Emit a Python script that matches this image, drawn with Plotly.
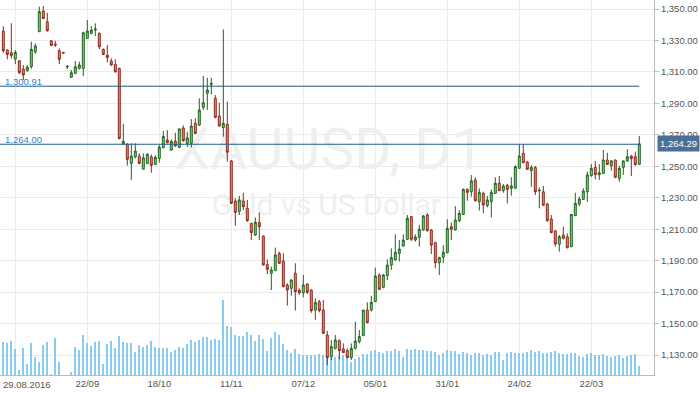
import plotly.graph_objects as go

# ---------------- data ----------------
opens = [1336.0, 1323.9, 1322.2, 1318.2, 1317.1, 1311.8, 1310.8, 1313.3, 1322.8, 1335.6,
         1348.7, 1341.9, 1329.8, 1327.7, 1323.5, 1322.4, 1313.1, 1306.5, 1309.1, 1312.2,
         1312.2, 1331.3, 1334.5, 1336.6, 1334.5, 1324.3, 1320.7, 1316.9, 1314.8, 1312.2,
         1264.1, 1264.1, 1251.8, 1256.1, 1256.5, 1248.2, 1251.8, 1256.0, 1251.2, 1255.0,
         1261.8, 1266.7, 1260.3, 1266.0, 1262.0, 1274.3, 1264.6, 1264.6, 1277.3, 1276.2,
         1287.5, 1296.4, 1302.1, 1293.2, 1282.0, 1274.6, 1276.7, 1253.4, 1227.9, 1221.4,
         1227.9, 1223.3, 1213.7, 1206.3, 1214.4, 1205.7, 1187.6, 1181.9, 1183.6, 1194.6,
         1189.8, 1174.5, 1172.4, 1181.9, 1171.3, 1169.6, 1175.1, 1171.3, 1158.6, 1163.9,
         1158.6, 1142.7, 1128.9, 1134.2, 1139.1, 1133.8, 1132.8, 1128.3, 1134.2, 1138.5,
         1142.3, 1158.6, 1158.6, 1163.9, 1180.9, 1173.0, 1180.5, 1187.2, 1190.4, 1194.6,
         1199.3, 1203.6, 1218.0, 1203.1, 1204.8, 1209.5, 1219.0, 1209.5, 1201.4, 1188.7,
         1192.1, 1195.1, 1211.6, 1209.5, 1215.4, 1219.4, 1235.3, 1233.8, 1241.3, 1227.5,
         1232.8, 1225.0, 1227.5, 1232.8, 1239.2, 1234.5, 1237.9, 1236.0, 1236.0, 1248.7,
         1258.2, 1252.7, 1247.2, 1249.3, 1234.3, 1233.8, 1226.0, 1216.5, 1208.9, 1200.4,
         1206.3, 1205.2, 1198.9, 1218.6, 1226.0, 1229.0, 1233.8, 1244.0, 1249.3, 1244.7,
         1245.5, 1254.0, 1250.2, 1254.0, 1242.3, 1249.3, 1253.4, 1256.5, 1256.1, 1251.2]
highs = [1339.0, 1324.3, 1340.9, 1323.9, 1317.5, 1314.4, 1314.2, 1329.2, 1328.1, 1351.5,
         1351.9, 1347.6, 1330.3, 1329.8, 1325.0, 1322.6, 1314.4, 1311.2, 1316.9, 1316.5,
         1335.6, 1343.0, 1339.2, 1340.9, 1335.1, 1325.0, 1327.1, 1318.6, 1318.0, 1312.7,
         1276.9, 1264.6, 1264.6, 1264.6, 1258.2, 1258.2, 1258.2, 1257.5, 1257.1, 1263.5,
         1272.4, 1273.0, 1267.1, 1271.3, 1274.1, 1276.0, 1272.0, 1280.0, 1280.5, 1293.2,
         1307.4, 1306.3, 1306.3, 1295.3, 1290.4, 1337.0, 1291.1, 1254.0, 1229.6, 1231.1,
         1233.2, 1228.6, 1213.7, 1217.5, 1220.7, 1205.7, 1190.8, 1186.2, 1198.3, 1195.7,
         1194.6, 1175.6, 1178.1, 1188.3, 1172.4, 1180.9, 1175.6, 1171.8, 1166.0, 1165.0,
         1165.0, 1145.3, 1139.5, 1142.7, 1139.9, 1137.4, 1134.2, 1137.4, 1151.2, 1145.9,
         1158.6, 1163.5, 1167.7, 1185.5, 1181.9, 1181.5, 1190.8, 1197.8, 1206.7, 1203.1,
         1206.7, 1219.0, 1218.4, 1206.7, 1212.7, 1219.0, 1220.1, 1210.1, 1202.1, 1192.5,
         1199.9, 1216.3, 1214.2, 1224.7, 1222.0, 1235.9, 1235.9, 1244.4, 1243.0, 1235.9,
         1233.9, 1231.1, 1235.3, 1243.0, 1243.8, 1238.7, 1238.7, 1243.0, 1250.6, 1263.9,
         1263.9, 1253.4, 1250.6, 1250.2, 1236.6, 1237.5, 1226.9, 1219.0, 1209.5, 1206.3,
         1211.6, 1207.4, 1219.4, 1233.2, 1230.7, 1236.0, 1246.6, 1251.4, 1253.4, 1251.4,
         1260.4, 1258.6, 1254.0, 1254.2, 1250.2, 1253.6, 1260.8, 1257.2, 1259.3, 1269.2]
lows = [1322.0, 1318.0, 1318.6, 1315.0, 1308.6, 1304.8, 1310.1, 1312.0, 1321.4, 1335.6,
        1343.6, 1335.6, 1326.7, 1326.0, 1315.0, 1321.8, 1311.8, 1306.5, 1308.6, 1311.6,
        1307.4, 1331.3, 1333.9, 1332.8, 1324.5, 1320.7, 1316.1, 1313.9, 1309.5, 1267.1,
        1263.5, 1250.4, 1241.2, 1255.0, 1251.4, 1248.0, 1251.4, 1245.9, 1250.8, 1252.3,
        1261.4, 1264.6, 1259.9, 1262.4, 1261.4, 1265.6, 1262.4, 1262.0, 1270.5, 1275.6,
        1285.8, 1285.8, 1295.7, 1280.5, 1275.2, 1268.8, 1253.0, 1226.0, 1212.2, 1219.0,
        1222.2, 1214.8, 1203.1, 1205.7, 1203.1, 1187.2, 1181.5, 1171.3, 1183.6, 1187.9,
        1173.4, 1161.4, 1167.7, 1158.2, 1168.2, 1166.7, 1168.8, 1156.9, 1152.3, 1157.1,
        1143.4, 1123.6, 1126.8, 1133.6, 1127.2, 1131.5, 1128.3, 1126.8, 1133.6, 1137.4,
        1142.1, 1150.1, 1157.6, 1163.9, 1171.3, 1172.4, 1177.7, 1184.1, 1190.0, 1189.4,
        1198.9, 1203.1, 1202.5, 1202.1, 1198.9, 1209.1, 1208.4, 1194.2, 1185.1, 1180.9,
        1188.3, 1194.6, 1203.1, 1209.1, 1214.5, 1219.0, 1228.1, 1230.7, 1227.5, 1221.8,
        1220.1, 1223.9, 1217.5, 1232.4, 1234.5, 1233.2, 1226.4, 1231.3, 1236.0, 1248.7,
        1251.9, 1247.6, 1237.0, 1231.7, 1223.3, 1224.7, 1214.8, 1207.4, 1198.9, 1195.7,
        1203.5, 1197.8, 1198.5, 1218.4, 1224.7, 1228.6, 1227.5, 1243.4, 1241.7, 1241.3,
        1245.1, 1250.8, 1247.2, 1242.5, 1240.2, 1244.5, 1252.9, 1243.8, 1250.2, 1251.2]
closes = [1323.5, 1321.1, 1320.5, 1322.4, 1309.5, 1308.0, 1313.1, 1324.3, 1326.5, 1348.3,
          1344.0, 1336.2, 1326.7, 1327.1, 1318.0, 1322.0, 1313.5, 1309.5, 1313.3, 1314.4,
          1334.9, 1336.0, 1336.6, 1337.3, 1326.0, 1321.1, 1319.2, 1314.4, 1310.1, 1267.7,
          1265.8, 1254.4, 1256.5, 1259.7, 1251.8, 1255.4, 1257.6, 1250.6, 1255.7, 1262.2,
          1269.0, 1265.0, 1265.8, 1262.9, 1273.7, 1266.3, 1268.0, 1275.6, 1270.9, 1285.8,
          1290.4, 1298.5, 1302.5, 1281.1, 1275.6, 1277.3, 1258.9, 1226.4, 1220.7, 1228.6,
          1224.3, 1215.4, 1207.8, 1214.4, 1211.6, 1187.2, 1184.5, 1184.1, 1193.6, 1188.3,
          1173.4, 1171.3, 1177.7, 1170.3, 1169.6, 1174.5, 1169.9, 1158.2, 1163.3, 1158.2,
          1143.8, 1128.3, 1135.3, 1139.5, 1132.8, 1131.5, 1128.3, 1134.2, 1138.9, 1141.7,
          1158.6, 1150.6, 1163.5, 1180.2, 1171.8, 1180.9, 1187.2, 1191.9, 1195.3, 1197.4,
          1203.1, 1216.9, 1203.6, 1205.0, 1209.9, 1218.4, 1209.1, 1199.9, 1188.7, 1191.9,
          1195.3, 1210.5, 1209.9, 1215.8, 1220.1, 1235.3, 1233.4, 1240.8, 1228.1, 1233.4,
          1225.4, 1228.6, 1233.4, 1239.2, 1234.5, 1237.5, 1235.3, 1237.5, 1249.8, 1256.5,
          1252.3, 1248.1, 1249.3, 1233.8, 1234.7, 1225.2, 1215.4, 1207.8, 1200.6, 1205.2,
          1204.2, 1198.2, 1219.4, 1226.4, 1229.2, 1234.3, 1244.5, 1248.7, 1244.7, 1245.9,
          1254.0, 1251.2, 1253.4, 1243.0, 1248.7, 1253.4, 1256.1, 1254.8, 1251.2, 1264.29]
volume = [33, 32, 34, 26, 5, 27, 11, 32, 18, 13,
          30, 33, 1, 37, 13, 0, 0, 3, 28, 25,
          40, 32, 29, 33, 34, 11, 31, 34, 27, 39,
          33, 32, 32, 23, 30, 28, 30, 34, 28, 27,
          27, 27, 23, 25, 28, 27, 31, 35, 33, 35,
          38, 38, 35, 36, 35, 75, 49, 48, 40, 39,
          39, 43, 40, 34, 40, 36, 24, 37, 43, 40,
          31, 25, 22, 26, 21, 20, 20, 20, 20, 21,
          20, 17, 17, 18, 19, 20, 18, 13, 16, 18,
          21, 21, 24, 25, 23, 22, 24, 24, 26, 24,
          18, 26, 25, 26, 25, 25, 24, 24, 23, 20,
          22, 25, 24, 24, 21, 23, 22, 20, 22, 22,
          20, 21, 20, 23, 23, 15, 22, 23, 22, 22,
          22, 23, 25, 23, 24, 22, 22, 23, 24, 22,
          21, 21, 22, 22, 19, 18, 21, 22, 20, 20,
          21, 19, 18, 19, 20, 17, 19, 20, 21, 9]
tick_index = [3, 21, 39, 57, 75, 93, 111, 129, 147]
tick_labels = ["29.08.2016", "22/09", "18/10", "11/11", "07/12",
               "05/01", "31/01", "24/02", "22/03"]
levels = [1300.91, 1264.00]
symbol = "XAUUSD, D1"
description = "Gold vs US Dollar"

# ---------------- figure ----------------
idx = list(range(len(closes)))
x_range = [-0.825, 162.675]
price_range = [1117.28, 1355.73]
FONT = "Liberation Sans"

fig = go.Figure()

# watermark (drawn first, under everything)
fig.add_trace(go.Scatter(
    x=[0.503, 0.499], y=[0.588, 0.447], mode="text",
    text=[symbol, description],
    textfont=dict(family="Roboto", size=[57, 30], color="#efefef"),
    hoverinfo="skip", showlegend=False, xaxis="x", yaxis="y"))

# volume
fig.add_trace(go.Bar(
    x=idx, y=volume, width=0.25, marker=dict(color="#8ccbf0", line=dict(width=0)),
    hoverinfo="skip", showlegend=False, xaxis="x2", yaxis="y2"))

# candles
fig.add_trace(go.Candlestick(
    x=idx, open=opens, high=highs, low=lows, close=closes,
    increasing=dict(line=dict(color="#1f621f", width=1), fillcolor="#88d488"),
    decreasing=dict(line=dict(color="#882a1d", width=1), fillcolor="#f28a7a"),
    whiskerwidth=0, showlegend=False, xaxis="x2", yaxis="y3"))

shapes = []
annotations = []
for lv in levels:
    shapes.append(dict(type="line", xref="x2", yref="y3", x0=x_range[0], x1=idx[-1],
                       y0=lv, y1=lv, line=dict(color="#1f5c8a", width=1)))
    annotations.append(dict(xref="paper", yref="y3", x=0, y=lv, xanchor="left",
                            yanchor="bottom", xshift=4, yshift=-2,
                            text=f"{lv:,.2f}", showarrow=False, borderpad=0,
                            font=dict(family=FONT, size=9.5, color="#3d7fc1")))

# current price label
annotations.append(dict(xref="paper", yref="y3", x=1, y=closes[-1], xanchor="left",
                        yanchor="middle", xshift=3, text=f"{closes[-1]:,.2f}",
                        showarrow=False, bgcolor="#4d6f96", borderpad=2,
                        font=dict(family=FONT, size=9.5, color="#ffffff")))
# first date label (kept inside the chart)
annotations.append(dict(xref="paper", yref="paper", x=0, y=0, xanchor="left",
                        yanchor="top", xshift=2, yshift=-3, text=tick_labels[0],
                        showarrow=False, borderpad=0,
                        font=dict(family=FONT, size=9.5, color="#555555")))

fig.update_layout(
    width=700, height=394,
    margin=dict(l=0, r=46, t=0, b=19),
    paper_bgcolor="white", plot_bgcolor="white",
    showlegend=False, bargap=0,
    shapes=shapes, annotations=annotations,
    xaxis=dict(range=[0, 1], visible=False, fixedrange=True),
    yaxis=dict(range=[0, 1], visible=False, fixedrange=True),
    xaxis2=dict(overlaying="x", range=x_range, tickmode="array",
                tickvals=tick_index, ticktext=[""] + tick_labels[1:],
                showgrid=True, gridcolor="#ebebeb", gridwidth=1,
                showline=True, linecolor="#bdbdbd", ticks="",
                zeroline=False, rangeslider=dict(visible=False),
                tickfont=dict(family=FONT, size=9.5, color="#555555")),
    yaxis2=dict(overlaying="y", range=[0, 375], visible=False),
    yaxis3=dict(overlaying="y", side="right", range=price_range,
                tick0=1130, dtick=20, tickformat=",.2f",
                showgrid=True, gridcolor="#ebebeb", gridwidth=1,
                showline=True, linecolor="#bdbdbd", ticks="outside",
                ticklen=4, tickcolor="#bdbdbd", zeroline=False,
                tickfont=dict(family=FONT, size=9.5, color="#555555")),
)

fig.write_html("out.html", config={"displayModeBar": False},
               post_script="document.body.style.margin='0';document.body.style.overflow='hidden';")
